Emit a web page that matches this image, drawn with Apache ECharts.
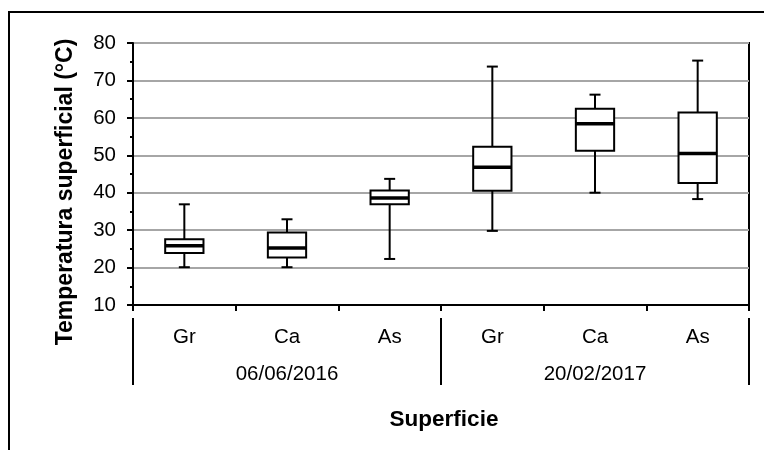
<!DOCTYPE html>
<html>
<head>
<meta charset="utf-8">
<script src="https://cdn.jsdelivr.net/npm/echarts@6/dist/echarts.min.js"></script>
<style>html,body{margin:0;padding:0;background:#fff}#c{width:764px;height:450px}</style>
</head>
<body>
<div id="c"></div>
<script>
// Data
const categories = ['Gr', 'Ca', 'As', 'Gr', 'Ca', 'As'];
const dates = ['06/06/2016', '20/02/2017'];
const mins    = [20.1, 20.1, 22.3, 29.8, 40.0, 38.3];
const q1s     = [23.9, 22.7, 36.9, 40.5, 51.2, 42.6];
const medians = [25.8, 25.2, 38.6, 46.8, 58.4, 50.5];
const q3s     = [27.6, 29.4, 40.6, 52.3, 62.4, 61.4];
const maxs    = [36.9, 32.9, 43.7, 73.7, 66.2, 75.3];
const yTicks = { min: 10, max: 80, interval: 10 };

const boxData = categories.map((c, i) => [i, mins[i], q1s[i], medians[i], q3s[i], maxs[i]]);

const FONT = "'Liberation Sans', Arial, sans-serif";
const chart = echarts.init(document.getElementById('c'), null, { renderer: 'canvas' });

function renderBox(params, api) {
  const i = api.value(0);
  const cx = api.coord([i, 0])[0];
  const band = api.size([1, 0])[0];
  const bw = band * 0.373;
  const cw = 11;
  const yMin = api.coord([i, api.value(1)])[1];
  const yQ1 = api.coord([i, api.value(2)])[1];
  const yMed = api.coord([i, api.value(3)])[1];
  const yQ3 = api.coord([i, api.value(4)])[1];
  const yMax = api.coord([i, api.value(5)])[1];
  const ls = { stroke: '#000', lineWidth: 2 };
  return {
    type: 'group',
    children: [
      { type: 'line', shape: { x1: cx, y1: yMax, x2: cx, y2: yQ3 }, style: ls },
      { type: 'line', shape: { x1: cx, y1: yQ1, x2: cx, y2: yMin }, style: ls },
      { type: 'line', shape: { x1: cx - cw / 2, y1: yMax, x2: cx + cw / 2, y2: yMax }, style: ls },
      { type: 'line', shape: { x1: cx - cw / 2, y1: yMin, x2: cx + cw / 2, y2: yMin }, style: ls },
      { type: 'rect', shape: { x: cx - bw / 2, y: yQ3, width: bw, height: yQ1 - yQ3 }, style: { fill: '#fff', stroke: '#000', lineWidth: 2 } },
      { type: 'line', shape: { x1: cx - bw / 2, y1: yMed, x2: cx + bw / 2, y2: yMed }, style: { stroke: '#000', lineWidth: 3.5 } }
    ]
  };
}

chart.setOption({
  animation: false,
  backgroundColor: '#fff',
  grid: { left: 133, right: 15, top: 43, bottom: 145, show: true, borderColor: '#000', borderWidth: 2, backgroundColor: 'transparent', outerBoundsMode: 'none' },
  graphic: [
    { type: 'rect', shape: { x: 9, y: 12, width: 900, height: 600 }, style: { fill: 'none', stroke: '#000', lineWidth: 2 }, z: 100 },
    { type: 'text', x: 66, y: 192, rotation: Math.PI / 2, style: { text: 'Temperatura superficial (°C)', font: "bold 23px " + FONT, fill: '#000', textAlign: 'center', textVerticalAlign: 'middle' }, z: 100 },
    { type: 'text', x: 444, y: 420, style: { text: 'Superficie', font: "bold 22.5px " + FONT, fill: '#000', textAlign: 'center', textVerticalAlign: 'middle' }, z: 100 }
  ],
  xAxis: [
    {
      type: 'category', data: categories, position: 'bottom',
      axisLine: { show: true, onZero: false, lineStyle: { color: '#000', width: 2 } },
      axisTick: { show: true, length: 6, inside: false, alignWithLabel: false, interval: 0, lineStyle: { color: '#000', width: 2 } },
      axisLabel: { margin: 22, color: '#000', fontFamily: FONT, fontSize: 20.5, interval: 0 },
      splitLine: { show: false }
    },
    {
      type: 'category', data: dates, position: 'bottom', offset: 13,
      axisLine: { show: false },
      axisTick: { show: true, length: 67, inside: false, interval: 0, lineStyle: { color: '#000', width: 2 } },
      axisLabel: { margin: 46, color: '#000', fontFamily: FONT, fontSize: 20.5, interval: 0 },
      splitLine: { show: false }
    }
  ],
  yAxis: {
    type: 'value', min: yTicks.min, max: yTicks.max, interval: yTicks.interval,
    axisLine: { show: true, lineStyle: { color: '#000', width: 2 } },
    axisTick: { show: true, length: 6, inside: false, lineStyle: { color: '#000', width: 2 } },
    minorTick: { show: true, splitNumber: 2, length: 3, lineStyle: { color: '#000', width: 2 } },
    axisLabel: { margin: 17, color: '#000', fontFamily: FONT, fontSize: 20.5 },
    splitLine: { show: true, lineStyle: { color: '#a6a6a6', width: 2 } }
  },
  series: [{
    type: 'custom', xAxisIndex: 0, yAxisIndex: 0,
    renderItem: renderBox,
    encode: { x: 0, y: [1, 2, 3, 4, 5] },
    data: boxData,
    z: 10
  }]
});
</script>
</body>
</html>
